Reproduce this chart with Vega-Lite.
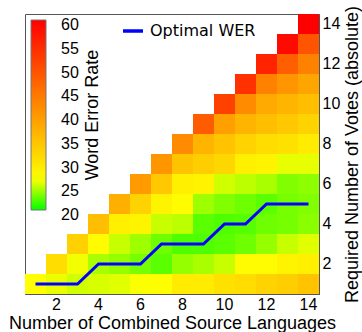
{
  "$schema": "https://vega.github.io/schema/vega-lite/v6.json",
  "autosize": {"type": "none"},
  "padding": {"left": 25, "top": 14, "right": 43, "bottom": 38},
  "width": 294,
  "height": 280,
  "background": "white",
  "config": {
    "view": {"stroke": "#555", "strokeWidth": 1},
    "font": "Liberation Sans",
    "axis": {"labelFont": "Liberation Sans", "titleFont": "Liberation Sans", "labelColor": "#000", "titleColor": "#000", "labelFontSize": 16, "titleFontSize": 18, "titleFontWeight": "normal", "ticks": false, "tickSize": 0, "grid": false, "domainColor": "#555", "domainWidth": 1, "zindex": 1}
  },
  "datasets": {
    "heat": [
      {"x":1,"y":1,"wer":26.5},
      {"x":2,"y":1,"wer":26},{"x":2,"y":2,"wer":31},
      {"x":3,"y":1,"wer":25.3},{"x":3,"y":2,"wer":26.2},{"x":3,"y":3,"wer":32.5},
      {"x":4,"y":1,"wer":25.5},{"x":4,"y":2,"wer":24.3},{"x":4,"y":3,"wer":27},{"x":4,"y":4,"wer":35},
      {"x":5,"y":1,"wer":25.7},{"x":5,"y":2,"wer":23.8},{"x":5,"y":3,"wer":25.1},{"x":5,"y":4,"wer":28.5},{"x":5,"y":5,"wer":37},
      {"x":6,"y":1,"wer":26.4},{"x":6,"y":2,"wer":23},{"x":6,"y":3,"wer":24},{"x":6,"y":4,"wer":28},{"x":6,"y":5,"wer":32.3},{"x":6,"y":6,"wer":39.6},
      {"x":7,"y":1,"wer":26.6},{"x":7,"y":2,"wer":22.3},{"x":7,"y":3,"wer":22.8},{"x":7,"y":4,"wer":25.1},{"x":7,"y":5,"wer":28},{"x":7,"y":6,"wer":33.7},{"x":7,"y":7,"wer":40.3},
      {"x":8,"y":1,"wer":29},{"x":8,"y":2,"wer":23.8},{"x":8,"y":3,"wer":22},{"x":8,"y":4,"wer":24.8},{"x":8,"y":5,"wer":27},{"x":8,"y":6,"wer":28.5},{"x":8,"y":7,"wer":34.4},{"x":8,"y":8,"wer":41.6},
      {"x":9,"y":1,"wer":29},{"x":9,"y":2,"wer":24.3},{"x":9,"y":3,"wer":22},{"x":9,"y":4,"wer":22.3},{"x":9,"y":5,"wer":24},{"x":9,"y":6,"wer":28},{"x":9,"y":7,"wer":33},{"x":9,"y":8,"wer":36.4},{"x":9,"y":9,"wer":48},
      {"x":10,"y":1,"wer":30.4},{"x":10,"y":2,"wer":25.1},{"x":10,"y":3,"wer":22.3},{"x":10,"y":4,"wer":22},{"x":10,"y":5,"wer":23.3},{"x":10,"y":6,"wer":25.3},{"x":10,"y":7,"wer":31.7},{"x":10,"y":8,"wer":34.4},{"x":10,"y":9,"wer":39},{"x":10,"y":10,"wer":51.5},
      {"x":11,"y":1,"wer":31},{"x":11,"y":2,"wer":27},{"x":11,"y":3,"wer":22.8},{"x":11,"y":4,"wer":22.2},{"x":11,"y":5,"wer":22.8},{"x":11,"y":6,"wer":24.8},{"x":11,"y":7,"wer":28.5},{"x":11,"y":8,"wer":32.3},{"x":11,"y":9,"wer":36.4},{"x":11,"y":10,"wer":41.6},{"x":11,"y":11,"wer":53.5},
      {"x":12,"y":1,"wer":32.3},{"x":12,"y":2,"wer":27},{"x":12,"y":3,"wer":23.8},{"x":12,"y":4,"wer":22.8},{"x":12,"y":5,"wer":22.3},{"x":12,"y":6,"wer":24.3},{"x":12,"y":7,"wer":28},{"x":12,"y":8,"wer":31},{"x":12,"y":9,"wer":35},{"x":12,"y":10,"wer":37.7},{"x":12,"y":11,"wer":43},{"x":12,"y":12,"wer":55.4},
      {"x":13,"y":1,"wer":33},{"x":13,"y":2,"wer":28},{"x":13,"y":3,"wer":25.1},{"x":13,"y":4,"wer":23},{"x":13,"y":5,"wer":23},{"x":13,"y":6,"wer":23.3},{"x":13,"y":7,"wer":25.9},{"x":13,"y":8,"wer":30.4},{"x":13,"y":9,"wer":33.7},{"x":13,"y":10,"wer":36.4},{"x":13,"y":11,"wer":40.3},{"x":13,"y":12,"wer":47.5},{"x":13,"y":13,"wer":58.7},
      {"x":14,"y":1,"wer":34.4},{"x":14,"y":2,"wer":28.5},{"x":14,"y":3,"wer":25.7},{"x":14,"y":4,"wer":23.5},{"x":14,"y":5,"wer":23.3},{"x":14,"y":6,"wer":23.6},{"x":14,"y":7,"wer":25.9},{"x":14,"y":8,"wer":29},{"x":14,"y":9,"wer":32.3},{"x":14,"y":10,"wer":35},{"x":14,"y":11,"wer":38.3},{"x":14,"y":12,"wer":43},{"x":14,"y":13,"wer":49},{"x":14,"y":14,"wer":60}
    ],
    "opt": [
      {"x":1,"y":1,"series":"Optimal WER"},{"x":2,"y":1,"series":"Optimal WER"},{"x":3,"y":1,"series":"Optimal WER"},
      {"x":4,"y":2,"series":"Optimal WER"},{"x":5,"y":2,"series":"Optimal WER"},{"x":6,"y":2,"series":"Optimal WER"},
      {"x":7,"y":3,"series":"Optimal WER"},{"x":8,"y":3,"series":"Optimal WER"},{"x":9,"y":3,"series":"Optimal WER"},
      {"x":10,"y":4,"series":"Optimal WER"},{"x":11,"y":4,"series":"Optimal WER"},
      {"x":12,"y":5,"series":"Optimal WER"},{"x":13,"y":5,"series":"Optimal WER"},{"x":14,"y":5,"series":"Optimal WER"}
    ]
  },
  "encoding": {
    "x": {"field": "x", "type": "ordinal",
      "scale": {"domain": [1,2,3,4,5,6,7,8,9,10,11,12,13,14], "paddingInner": 0, "paddingOuter": 0},
      "axis": {"orient": "bottom", "values": [2,4,6,8,10,12,14], "labelAngle": 0, "labelPadding": 2, "titlePadding": 2, "title": "Number of Combined Source Languages"}},
    "y": {"field": "y", "type": "ordinal",
      "scale": {"domain": [14,13,12,11,10,9,8,7,6,5,4,3,2,1], "paddingInner": 0, "paddingOuter": 0},
      "axis": {"orient": "right", "values": [2,4,6,8,10,12,14], "labelPadding": 3, "titlePadding": 4, "titleAngle": 270, "titleBaseline": "top", "title": "Required Number of Votes (absolute)"}}
  },
  "layer": [
    {
      "data": {"name": "heat"},
      "mark": {"type": "rect"},
      "encoding": {
        "color": {"field": "wer", "type": "quantitative",
          "scale": {"type": "linear", "domain": [20, 26.5, 60], "range": ["#00ff00", "#ffff00", "#ff0000"], "interpolate": "rgb", "clamp": true},
          "legend": {"orient": "none", "legendX": 6, "legendY": 6, "direction": "vertical", "type": "gradient",
            "gradientLength": 190, "gradientThickness": 15, "gradientStrokeColor": "#777", "gradientStrokeWidth": 1,
            "values": [20,25,30,35,40,45,50,55,60], "labelFontSize": 16, "labelFont": "Liberation Sans", "labelColor": "#000", "labelOffset": 15, "labelOverlap": false,
            "title": "Word Error Rate", "titleOrient": "right", "titleAnchor": "middle", "titleFontSize": 18, "titleFontWeight": "normal", "titleFont": "Liberation Sans", "titleColor": "#000", "titlePadding": 5, "padding": 0,
            "encode": {
              "labels": {"update": {"baseline": {"value": "middle"}, "dy": {"value": 5}}},
              "title": {"update": {"angle": {"value": 270}, "baseline": {"value": "top"}}}
            }}}
      }
    },
    {
      "data": {"name": "opt"},
      "mark": {"type": "line", "strokeWidth": 3},
      "encoding": {
        "stroke": {"field": "series", "type": "nominal",
          "scale": {"range": ["#0000ff"]},
          "legend": {"orient": "none", "legendX": 96, "legendY": 5, "title": null, "symbolType": "stroke", "symbolSize": 400, "symbolStrokeWidth": 3.5, "labelFont": "DejaVu Sans", "labelFontSize": 16, "labelColor": "#000", "labelOffset": 5, "padding": 0}}
      }
    }
  ]
}
